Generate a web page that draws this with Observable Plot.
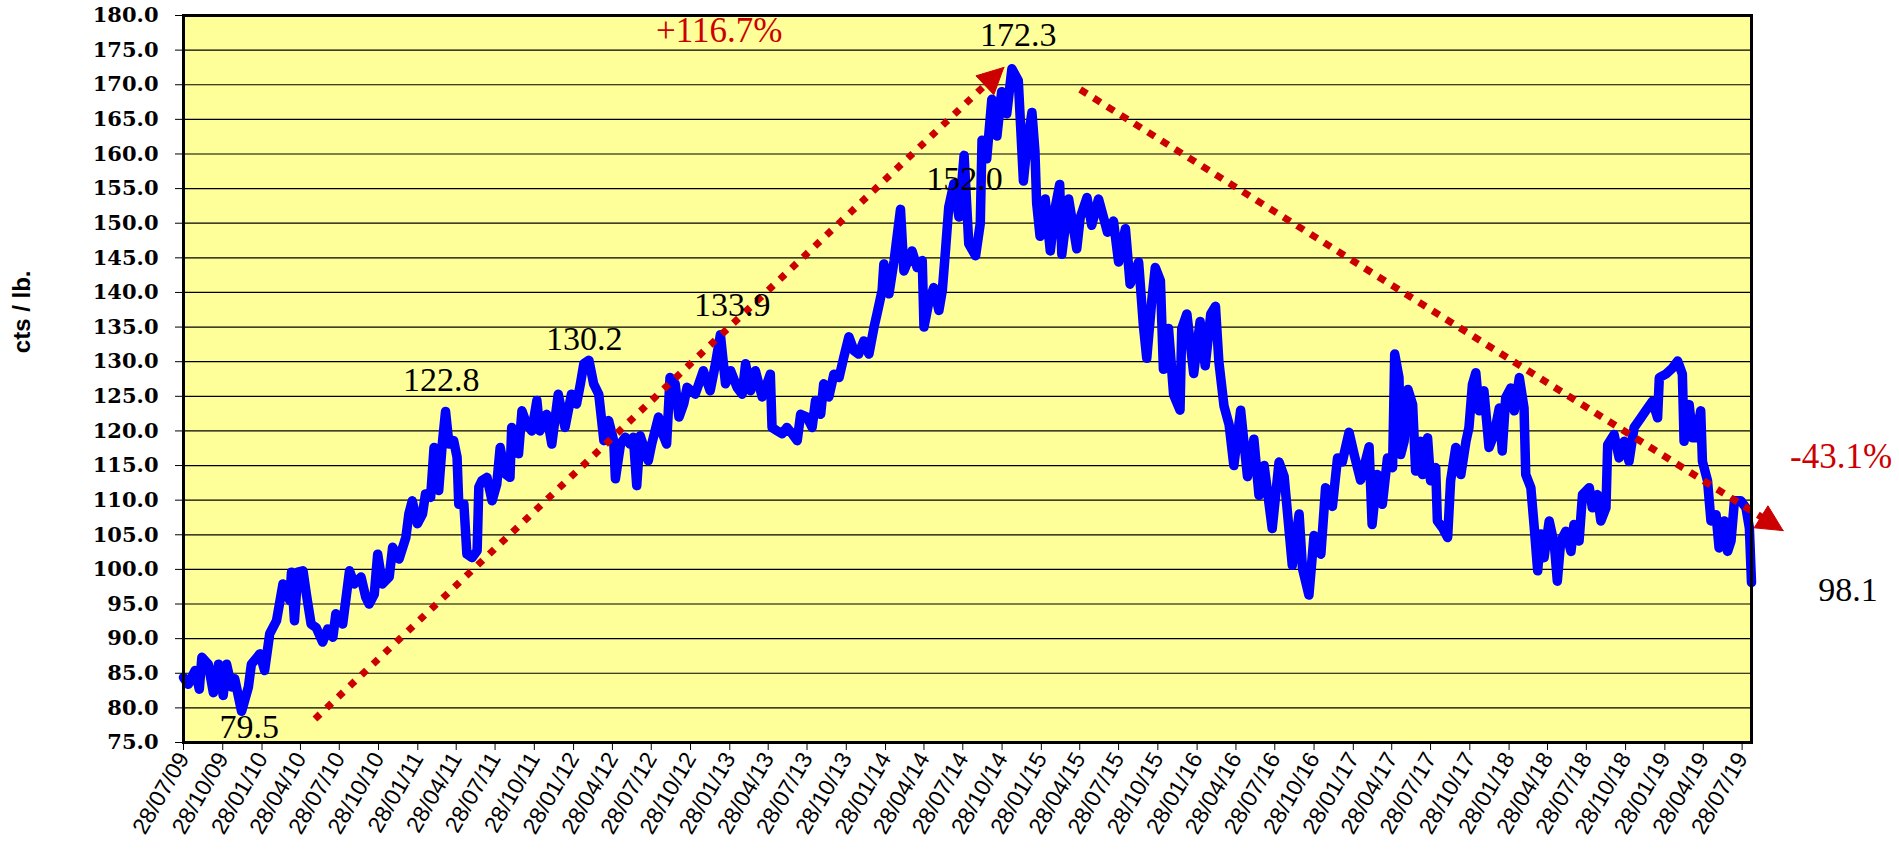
<!DOCTYPE html>
<html>
<head>
<meta charset="utf-8">
<script src="https://cdn.jsdelivr.net/npm/d3@7"></script>
<script src="https://cdn.jsdelivr.net/npm/@observablehq/plot@0.6"></script>
<style>
  html, body { margin: 0; padding: 0; background: #ffffff; }
  #chart svg { display: block; }
</style>
</head>
<body>
<div id="chart"></div>
<script>
// ---- Data ----
const priceSeries = [
  ["2009-07-28", 84.4], ["2009-08-08", 83.4], ["2009-08-24", 85.4], ["2009-09-03", 82.7],
  ["2009-09-09", 87.3], ["2009-09-24", 86.3], ["2009-10-06", 82.2], ["2009-10-18", 86.3],
  ["2009-10-29", 81.8], ["2009-11-06", 86.3], ["2009-11-18", 83.0], ["2009-11-25", 84.2],
  ["2009-12-11", 79.5], ["2009-12-27", 83.0], ["2010-01-03", 86.3], ["2010-01-23", 87.8],
  ["2010-02-03", 85.4], ["2010-02-15", 90.7], ["2010-03-03", 92.6], ["2010-03-18", 97.9],
  ["2010-04-03", 95.5], ["2010-04-07", 99.6], ["2010-04-14", 92.6], ["2010-04-22", 99.6],
  ["2010-05-04", 99.8], ["2010-05-12", 96.4], ["2010-05-23", 92.1], ["2010-06-04", 91.6],
  ["2010-06-19", 89.5], ["2010-07-01", 91.4], ["2010-07-13", 90.2], ["2010-07-20", 93.6],
  ["2010-08-05", 92.1], ["2010-08-21", 99.8], ["2010-09-01", 97.9], ["2010-09-17", 98.9],
  ["2010-09-28", 96.0], ["2010-10-06", 95.0], ["2010-10-18", 96.4], ["2010-10-26", 102.2],
  ["2010-11-06", 97.9], ["2010-11-22", 98.9], ["2010-11-30", 103.2], ["2010-12-15", 101.5],
  ["2010-12-31", 104.6], ["2011-01-07", 108.0], ["2011-01-15", 109.9], ["2011-01-27", 106.6],
  ["2011-02-08", 108.0], ["2011-02-15", 110.9], ["2011-02-27", 110.4], ["2011-03-07", 117.6],
  ["2011-03-18", 111.4], ["2011-03-26", 117.9], ["2011-04-03", 122.8], ["2011-04-11", 118.1],
  ["2011-04-22", 118.6], ["2011-04-30", 116.2], ["2011-05-04", 109.4], ["2011-05-16", 109.4],
  ["2011-05-23", 102.2], ["2011-06-04", 101.7], ["2011-06-16", 102.7], ["2011-06-20", 111.9],
  ["2011-06-27", 112.8], ["2011-07-09", 113.3], ["2011-07-21", 109.9], ["2011-08-01", 112.3],
  ["2011-08-09", 117.6], ["2011-08-21", 113.8], ["2011-09-01", 113.3], ["2011-09-05", 120.5],
  ["2011-09-21", 116.7], ["2011-09-29", 122.9], ["2011-10-10", 121.0], ["2011-10-22", 120.0],
  ["2011-11-03", 124.4], ["2011-11-10", 120.0], ["2011-11-26", 122.4], ["2011-12-08", 118.1],
  ["2011-12-23", 125.3], ["2012-01-08", 120.5], ["2012-01-23", 125.3], ["2012-02-04", 123.9],
  ["2012-02-13", 126.8], ["2012-02-21", 129.7], ["2012-03-04", 130.2], ["2012-03-15", 126.8],
  ["2012-03-27", 125.3], ["2012-04-08", 118.6], ["2012-04-19", 121.5], ["2012-05-01", 118.6],
  ["2012-05-05", 113.1], ["2012-05-17", 118.1], ["2012-05-28", 119.1], ["2012-06-08", 118.1],
  ["2012-06-16", 119.1], ["2012-06-24", 112.1], ["2012-07-02", 119.3], ["2012-07-13", 117.2],
  ["2012-07-21", 115.7], ["2012-07-29", 118.1], ["2012-08-14", 122.0], ["2012-08-21", 120.0],
  ["2012-09-02", 118.1], ["2012-09-10", 127.7], ["2012-09-22", 126.8], ["2012-10-01", 122.0],
  ["2012-10-12", 123.9], ["2012-10-20", 126.3], ["2012-11-08", 125.3], ["2012-11-27", 128.7],
  ["2012-12-13", 125.8], ["2012-12-24", 129.2], ["2013-01-06", 133.9], ["2013-01-18", 126.8],
  ["2013-01-30", 128.7], ["2013-02-14", 126.3], ["2013-02-26", 125.3], ["2013-03-06", 129.7],
  ["2013-03-18", 125.8], ["2013-03-29", 128.7], ["2013-04-14", 124.9], ["2013-05-03", 128.2],
  ["2013-05-07", 120.5], ["2013-05-19", 120.0], ["2013-05-31", 119.6], ["2013-06-11", 120.5],
  ["2013-06-23", 119.6], ["2013-07-05", 118.6], ["2013-07-13", 122.4], ["2013-07-28", 122.0],
  ["2013-08-09", 120.5], ["2013-08-17", 124.4], ["2013-08-29", 122.4], ["2013-09-05", 126.8],
  ["2013-09-17", 124.9], ["2013-09-29", 128.2], ["2013-10-11", 127.7], ["2013-10-22", 130.6],
  ["2013-11-03", 133.6], ["2013-11-15", 131.6], ["2013-11-26", 131.1], ["2013-12-08", 133.0],
  ["2013-12-20", 131.1], ["2014-01-01", 135.0], ["2014-01-08", 136.9], ["2014-01-20", 140.3],
  ["2014-01-24", 144.1], ["2014-02-05", 139.8], ["2014-02-17", 144.6], ["2014-03-04", 152.0],
  ["2014-03-12", 143.1], ["2014-03-31", 146.0], ["2014-04-12", 143.6], ["2014-04-24", 144.6],
  ["2014-04-28", 135.0], ["2014-05-10", 138.8], ["2014-05-21", 140.7], ["2014-06-02", 137.4],
  ["2014-06-10", 140.3], ["2014-06-18", 146.5], ["2014-06-25", 152.3], ["2014-07-07", 155.7],
  ["2014-07-19", 150.9], ["2014-07-31", 159.8], ["2014-08-11", 147.0], ["2014-08-27", 145.3],
  ["2014-09-07", 150.0], ["2014-09-11", 162.0], ["2014-09-22", 159.3], ["2014-10-04", 167.9],
  ["2014-10-16", 162.6], ["2014-10-27", 169.0], ["2014-11-08", 165.8], ["2014-11-20", 172.3],
  ["2014-12-05", 170.6], ["2014-12-17", 156.1], ["2014-12-25", 161.0], ["2015-01-06", 166.0],
  ["2015-01-13", 160.4], ["2015-01-17", 152.9], ["2015-01-25", 148.1], ["2015-02-06", 153.5],
  ["2015-02-18", 146.0], ["2015-03-02", 152.4], ["2015-03-12", 155.6], ["2015-03-17", 145.5],
  ["2015-04-02", 153.5], ["2015-04-21", 146.3], ["2015-04-29", 150.8], ["2015-05-15", 153.7],
  ["2015-05-26", 149.7], ["2015-06-11", 153.5], ["2015-07-02", 148.7], ["2015-07-16", 150.3],
  ["2015-07-28", 144.4], ["2015-08-13", 149.2], ["2015-08-24", 141.2], ["2015-09-13", 144.4],
  ["2015-09-24", 135.3], ["2015-10-02", 130.5], ["2015-10-14", 139.0], ["2015-10-22", 143.6],
  ["2015-11-03", 141.7], ["2015-11-10", 128.9], ["2015-11-22", 134.8], ["2015-12-04", 125.2],
  ["2015-12-19", 123.0], ["2015-12-23", 134.8], ["2016-01-04", 136.9], ["2016-01-20", 128.3],
  ["2016-02-04", 135.8], ["2016-02-16", 129.4], ["2016-02-29", 136.9], ["2016-03-11", 138.0],
  ["2016-03-19", 130.0], ["2016-03-31", 123.6], ["2016-04-12", 120.9], ["2016-04-23", 115.0],
  ["2016-05-09", 123.0], ["2016-05-25", 113.4], ["2016-06-09", 118.8], ["2016-06-21", 110.7],
  ["2016-07-03", 115.0], ["2016-07-22", 105.9], ["2016-08-07", 115.5], ["2016-08-19", 113.4],
  ["2016-09-07", 100.6], ["2016-09-23", 108.0], ["2016-10-01", 100.1], ["2016-10-16", 96.3],
  ["2016-10-28", 104.9], ["2016-11-13", 102.2], ["2016-11-24", 111.8], ["2016-12-10", 109.1],
  ["2016-12-22", 116.1], ["2017-01-02", 115.5], ["2017-01-18", 119.8], ["2017-01-30", 116.6],
  ["2017-02-14", 112.9], ["2017-03-06", 117.7], ["2017-03-13", 106.5], ["2017-03-25", 113.7],
  ["2017-04-06", 109.4], ["2017-04-18", 116.1], ["2017-04-30", 114.7], ["2017-05-05", 131.1],
  ["2017-05-15", 127.7], ["2017-05-19", 116.6], ["2017-05-27", 118.5], ["2017-06-05", 126.0],
  ["2017-06-16", 123.8], ["2017-06-23", 114.2], ["2017-07-05", 118.5], ["2017-07-09", 113.7],
  ["2017-07-21", 119.0], ["2017-07-28", 112.8], ["2017-08-09", 114.7], ["2017-08-13", 107.0],
  ["2017-08-25", 106.0], ["2017-09-06", 104.6], ["2017-09-13", 112.8], ["2017-09-25", 117.6],
  ["2017-10-07", 113.7], ["2017-10-19", 118.5], ["2017-10-26", 120.5], ["2017-11-03", 126.7],
  ["2017-11-11", 128.4], ["2017-11-19", 122.9], ["2017-11-30", 125.8], ["2017-12-12", 117.6],
  ["2017-12-24", 119.5], ["2018-01-05", 123.3], ["2018-01-12", 117.1], ["2018-01-20", 124.8],
  ["2018-02-01", 126.2], ["2018-02-09", 122.9], ["2018-02-21", 127.7], ["2018-03-04", 123.3],
  ["2018-03-08", 113.7], ["2018-03-20", 111.8], ["2018-03-28", 106.0], ["2018-04-05", 99.8],
  ["2018-04-12", 105.1], ["2018-04-20", 101.7], ["2018-05-02", 107.0], ["2018-05-14", 103.6],
  ["2018-05-21", 98.3], ["2018-05-29", 104.1], ["2018-06-10", 105.5], ["2018-06-22", 102.6],
  ["2018-06-29", 106.5], ["2018-07-11", 104.1], ["2018-07-19", 110.8], ["2018-08-04", 111.8],
  ["2018-08-11", 108.9], ["2018-08-23", 110.8], ["2018-08-31", 107.0], ["2018-09-12", 108.9],
  ["2018-09-16", 118.0], ["2018-10-01", 119.5], ["2018-10-13", 116.1], ["2018-10-25", 118.5],
  ["2018-11-05", 115.6], ["2018-11-17", 120.5], ["2018-12-03", 121.9], ["2018-12-14", 122.9],
  ["2018-12-30", 124.3], ["2019-01-11", 121.9], ["2019-01-15", 127.7], ["2019-01-30", 128.2],
  ["2019-02-15", 129.1], ["2019-02-27", 130.1], ["2019-03-10", 128.2], ["2019-03-14", 118.5],
  ["2019-03-26", 123.8], ["2019-04-03", 119.0], ["2019-04-11", 119.0], ["2019-04-22", 122.9],
  ["2019-04-26", 115.6], ["2019-05-08", 112.8], ["2019-05-16", 107.0], ["2019-05-28", 107.9],
  ["2019-06-04", 103.1], ["2019-06-16", 107.0], ["2019-06-24", 102.6], ["2019-07-02", 104.1],
  ["2019-07-10", 109.9], ["2019-07-25", 109.9], ["2019-08-06", 108.9], ["2019-08-14", 106.0],
  ["2019-08-19", 98.1]
];

const xTickLabels = [
  "28/07/09","28/10/09","28/01/10","28/04/10","28/07/10","28/10/10","28/01/11","28/04/11",
  "28/07/11","28/10/11","28/01/12","28/04/12","28/07/12","28/10/12","28/01/13","28/04/13",
  "28/07/13","28/10/13","28/01/14","28/04/14","28/07/14","28/10/14","28/01/15","28/04/15",
  "28/07/15","28/10/15","28/01/16","28/04/16","28/07/16","28/10/16","28/01/17","28/04/17",
  "28/07/17","28/10/17","28/01/18","28/04/18","28/07/18","28/10/18","28/01/19","28/04/19",
  "28/07/19"
];
const yTickValues = [75,80,85,90,95,100,105,110,115,120,125,130,135,140,145,150,155,160,165,170,175,180];

// trend arrows (start, arrow tip) in data space
const trendUp = [["2010-06-01", 78.4], ["2014-11-01", 172.5]];
const trendDown = [["2015-04-29", 169.3], ["2019-11-01", 105.6]];

// value labels: [date, value, text]
const peakLabels = [
  ["2009-12-29", 77.2, "79.5"],
  ["2011-03-24", 127.4, "122.8"],
  ["2012-02-22", 133.2, "130.2"],
  ["2013-02-03", 138.1, "133.9"],
  ["2014-08-01", 156.3, "152.0"],
  ["2014-12-05", 177.1, "172.3"],
  ["2020-04-01", 97.0, "98.1"]
];
const changeLabels = [
  ["2013-01-03", 177.8, "+116.7%"],
  ["2020-03-16", 116.2, "-43.1%"]
];
const yAxisTitle = "cts / lb.";
const yAxisTitleAt = 137.2;

// ---- Build ----
const parse = d3.utcParse("%Y-%m-%d");
const prices = priceSeries.map(([d, v]) => ({date: parse(d), value: v}));
const xTicks = xTickLabels.map(d3.utcParse("%d/%m/%y"));
const toPts = arr => arr.map(([d, v]) => ({date: parse(d), value: v}));
const labels = peakLabels.map(([d, v, t]) => ({date: parse(d), value: v, text: t}));
const changes = changeLabels.map(([d, v, t]) => ({date: parse(d), value: v, text: t}));

const W = 1899, H = 857, mL = 183, mR = 148, mT = 15, mB = 115;
const xDomain = [parse("2009-07-28"), parse("2019-08-19")];
const yDomain = [75, 180];

// scales identical to the plot's, used to shape the arrow heads in screen space
const sx = Plot.scale({x: {type: "utc", domain: xDomain, range: [mL, W - mR]}});
const sy = Plot.scale({y: {type: "linear", domain: yDomain, range: [H - mB, mT]}});
const HEAD_LEN = 26, HEAD_HALF = 13;
function arrowParts(trend) {
  const [a, b] = toPts(trend);
  const ax = sx.apply(a.date), ay = sy.apply(a.value);
  const bx = sx.apply(b.date), by = sy.apply(b.value);
  const len = Math.hypot(bx - ax, by - ay);
  const ux = (bx - ax) / len, uy = (by - ay) / len;
  const cx = bx - ux * HEAD_LEN, cy = by - uy * HEAD_LEN;
  const px = -uy, py = ux;
  const inv = ([x, y]) => ({date: sx.invert(x), value: sy.invert(y)});
  return {
    shaft: [a, inv([cx + ux * 2, cy + uy * 2])],
    head: [[bx, by], [cx + px * HEAD_HALF, cy + py * HEAD_HALF], [cx - px * HEAD_HALF, cy - py * HEAD_HALF], [bx, by]].map(inv)
  };
}
const upArrow = arrowParts(trendUp);
const downArrow = arrowParts(trendDown);

const red = "#CC0000";
const chart = Plot.plot({
  width: W, height: H,
  marginLeft: mL, marginRight: mR, marginTop: mT, marginBottom: mB,
  style: {background: "#ffffff", overflow: "visible", fontFamily: "Liberation Sans"},
  x: {type: "utc", domain: xDomain},
  y: {domain: yDomain},
  marks: [
    Plot.frame({fill: "#FFFF99"}),
    Plot.gridY(yTickValues, {stroke: "#000000", strokeOpacity: 1, strokeWidth: 1.2}),
    Plot.line(prices, {x: "date", y: "value", stroke: "#0000FF", strokeWidth: 9.5,
      strokeLinejoin: "round", strokeLinecap: "round"}),
    Plot.line(upArrow.shaft, {x: "date", y: "value", stroke: red, strokeWidth: 7, strokeDasharray: "7,9",
      strokeLinecap: "butt"}),
    Plot.line(downArrow.shaft, {x: "date", y: "value", stroke: red, strokeWidth: 7, strokeDasharray: "8,8",
      strokeLinecap: "butt"}),
    Plot.line(upArrow.head, {x: "date", y: "value", fill: red, stroke: red, strokeWidth: 1, curve: "linear-closed"}),
    Plot.line(downArrow.head, {x: "date", y: "value", fill: red, stroke: red, strokeWidth: 1, curve: "linear-closed"}),
    Plot.axisY({ticks: yTickValues, tickFormat: d => d.toFixed(1), tickSize: 8, tickPadding: 17,
      fontFamily: "DejaVu Serif", fontWeight: "bold", fontSize: 21, label: null, stroke: "#000", fill: "#000"}),
    Plot.axisX({ticks: xTicks, tickFormat: d3.utcFormat("%d/%m/%y"), tickSize: 8, tickPadding: 4,
      tickRotate: -60, fontFamily: "Liberation Sans", fontSize: 23, label: null, stroke: "#000", fill: "#000"}),
    Plot.text(labels, {x: "date", y: "value", text: "text", fontFamily: "Liberation Serif",
      fontSize: 34, fill: "#000", textAnchor: "middle", lineAnchor: "middle"}),
    Plot.text(changes, {x: "date", y: "value", text: "text", fontFamily: "Liberation Serif",
      fontSize: 35, fill: red, textAnchor: "middle", lineAnchor: "middle"}),
    Plot.text([yAxisTitle], {text: d => d, y: [yAxisTitleAt], frameAnchor: "left", dx: -161, rotate: -90,
      textAnchor: "middle", lineAnchor: "middle",
      fontFamily: "Liberation Sans", fontWeight: "bold", fontSize: 24, fill: "#000"}),
    Plot.frame({stroke: "#000000", strokeWidth: 3})
  ]
});
document.getElementById("chart").appendChild(chart);
</script>
</body>
</html>
